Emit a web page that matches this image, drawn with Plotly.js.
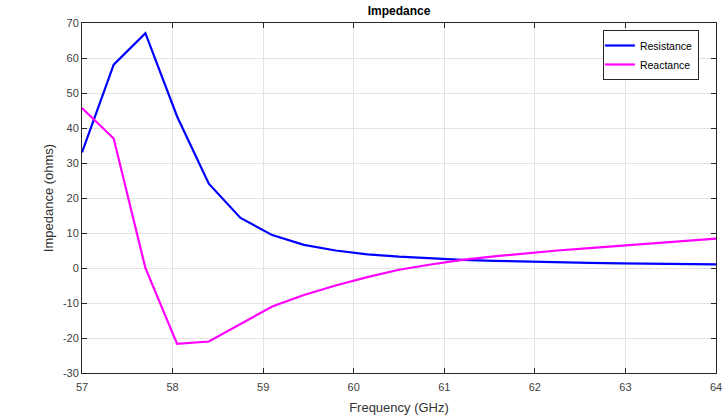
<!DOCTYPE html>
<html>
<head>
<meta charset="utf-8">
<script src="https://cdn.plot.ly/plotly-3.0.1.min.js"></script>
<style>
html,body{margin:0;padding:0;background:#fff;}
#chart{width:727px;height:419px;}
</style>
</head>
<body>
<div id="chart"></div>
<script>
var frequency = [57, 57.35, 57.7, 58.05, 58.4, 58.75, 59.1, 59.45, 59.8, 60.15, 60.5,
                 60.85, 61.2, 61.55, 61.9, 62.25, 62.6, 62.95, 63.3, 63.65, 64];
var resistance = [33.0, 58.1, 67.1, 43.3, 24.1, 14.3, 9.4, 6.6, 5.0, 3.9, 3.25,
                  2.75, 2.35, 2.05, 1.8, 1.6, 1.45, 1.35, 1.25, 1.15, 1.05];
var reactance = [45.7, 37.0, 0.0, -21.7, -21.0, -16.0, -11.0, -7.7, -5.0, -2.6, -0.5,
                 1.0, 2.3, 3.3, 4.2, 5.0, 5.7, 6.4, 7.0, 7.7, 8.4];
var seriesNames = ['Resistance', 'Reactance'];
var xTicks = [57, 58, 59, 60, 61, 62, 63, 64];
var yTicks = [-30, -20, -10, 0, 10, 20, 30, 40, 50, 60, 70];

var font = 'Liberation Sans, Arial, Helvetica, sans-serif';
var axisColor = '#262626';

var traces = [
  {x: frequency, y: resistance, name: seriesNames[0], mode: 'lines', type: 'scatter',
   line: {color: '#0000ff', width: 2.2}},
  {x: frequency, y: reactance, name: seriesNames[1], mode: 'lines', type: 'scatter',
   line: {color: '#ff00ff', width: 2.2}}
];

var axisCommon = {
  showline: true, mirror: 'ticks', linecolor: axisColor, linewidth: 1,
  ticks: 'inside', ticklen: 5, tickcolor: axisColor, tickwidth: 1,
  showgrid: true, gridcolor: '#e3e3e3', gridwidth: 1,
  zeroline: false, automargin: false,
  tickfont: {family: font, size: 11, color: '#404040'}
};

var layout = {
  width: 727, height: 419,
  margin: {l: 82, r: 11, t: 23, b: 46},
  paper_bgcolor: '#ffffff', plot_bgcolor: '#ffffff',
  font: {family: font, color: axisColor},
  title: {text: '<b>Impedance</b>', font: {family: font, size: 12, color: '#000'},
          x: 0.5, xref: 'paper', y: 1 - 11 / 419, yref: 'container', yanchor: 'middle'},
  xaxis: Object.assign({}, axisCommon, {
    range: [57, 64], tickvals: xTicks, ticktext: xTicks.map(String),
    ticklabelstandoff: 4,
    title: {text: 'Frequency (GHz)', font: {family: font, size: 13, color: '#333'}, standoff: 10}
  }),
  yaxis: Object.assign({}, axisCommon, {
    range: [-30, 70], tickvals: yTicks, ticktext: yTicks.map(String),
    title: {text: 'Impedance (ohms)', font: {family: font, size: 13, color: '#333'}, standoff: 6}
  }),
  showlegend: true,
  legend: {x: 0.973, y: 0.98, xanchor: 'right', yanchor: 'top',
           bgcolor: '#ffffff', bordercolor: axisColor, borderwidth: 1,
           font: {family: font, size: 10.5, color: '#000'},
           tracegroupgap: 0, itemwidth: 30, indentation: -4}
};

Plotly.newPlot('chart', traces, layout, {displayModeBar: false, staticPlot: true});
</script>
</body>
</html>
